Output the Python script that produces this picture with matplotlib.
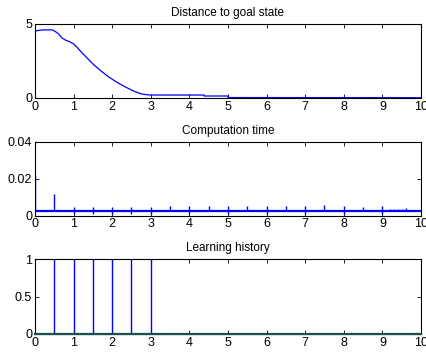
import matplotlib
matplotlib.use("Agg")
import matplotlib.pyplot as plt

plt.rcParams['font.family'] = ['Liberation Sans', 'DejaVu Sans']

# ---- data ----
dist_t = [0.0, 0.05, 0.2, 0.45, 0.55, 0.62, 0.7, 0.8, 0.9, 1.0, 1.1, 1.2, 1.35, 1.5,
          1.7, 1.9, 2.1, 2.3, 2.46, 2.6, 2.75, 2.9, 3.0, 4.38, 4.38, 5.0, 5.0, 10.0]
dist_v = [4.5, 4.55, 4.6, 4.6, 4.45, 4.3, 4.05, 3.9, 3.8, 3.65, 3.4, 3.1, 2.7, 2.3,
          1.85, 1.44, 1.1, 0.8, 0.59, 0.42, 0.28, 0.22, 0.2, 0.2, 0.135, 0.135, 0.03, 0.02]

comp_base = 0.0025
comp_t0_peak = 0.022
spike_t = [0.5, 1.0, 1.5, 2.0, 2.5, 2.8, 3.0, 3.5, 4.0, 4.5, 5.0, 5.5, 6.0, 6.5, 7.0,
           7.5, 8.0, 8.5, 9.0, 9.2, 9.3, 9.4, 9.5, 9.6]
spike_hi = [0.0115, 0.0045, 0.0045, 0.0045, 0.0045, 0.0032, 0.0045, 0.0052, 0.0050, 0.0052,
            0.0052, 0.0052, 0.0050, 0.0052, 0.0050, 0.0056, 0.0054, 0.0045, 0.0050, 0.0034,
            0.0034, 0.0034, 0.0036, 0.0040]
spike_lo = [0.0025, 0.0010, 0.0010, 0.0010, 0.0010, 0.0025, 0.0010, 0.0025, 0.0010, 0.0025,
            0.0010, 0.0025, 0.0010, 0.0025, 0.0010, 0.0025, 0.0010, 0.0025, 0.0010, 0.0025,
            0.0025, 0.0025, 0.0025, 0.0025]

learn_t = [0.5, 1.0, 1.5, 2.0, 2.5, 3.0]
learn_v = [1, 1, 1, 1, 1, 1]

x_ticks = list(range(0, 11))

fig = plt.figure(figsize=(4.27, 3.53), dpi=100)
W, H = 427.0, 353.0
left = 35 / W
width = 386 / W

def make_ax(top_px, bot_px):
    return fig.add_axes([left, (H - bot_px) / H, width, (bot_px - top_px) / H])

ax1 = make_ax(24, 98)
ax2 = make_ax(142, 215.5)
ax3 = make_ax(259, 334)

blue = '#0000ff'

ax1.plot(dist_t, dist_v, color=blue, lw=0.9)
ax1.set_ylim(0, 5)
ax1.set_yticks([0, 5])
ax1.set_yticklabels(['0', '5'])
ax1.set_title('Distance to goal state', fontsize=8.5, pad=6)

ax2.plot([0, 10], [comp_base, comp_base], color=blue, lw=1.6)
ax2.vlines([0.0], [comp_base], [comp_t0_peak], color=blue, lw=1.0)
ax2.vlines(spike_t, spike_lo, spike_hi, color=blue, lw=1.0)
ax2.set_ylim(0, 0.04)
ax2.set_yticks([0, 0.02, 0.04])
ax2.set_yticklabels(['0', '0.02', '0.04'])
ax2.set_title('Computation time', fontsize=8.5, pad=6)

ax3.plot([0, 10], [0, 0], color='#1b4f4f', lw=1.6, zorder=3, clip_on=False)
ax3.vlines(learn_t, [0] * len(learn_t), learn_v, color=blue, lw=1.0)
ax3.set_ylim(0, 1)
ax3.set_yticks([0, 0.5, 1])
ax3.set_yticklabels(['0', '0.5', '1'])
ax3.set_title('Learning history', fontsize=8.5, pad=6)

for ax in (ax1, ax2, ax3):
    ax.set_xlim(0, 10)
    ax.set_xticks(x_ticks)
    ax.set_xticklabels([str(v) for v in x_ticks])
    ax.tick_params(direction='in', top=True, right=True, length=3, width=0.6,
                   labelsize=9, pad=2)
    for s in ax.spines.values():
        s.set_linewidth(0.8)

fig.savefig('out.png', dpi=100)
